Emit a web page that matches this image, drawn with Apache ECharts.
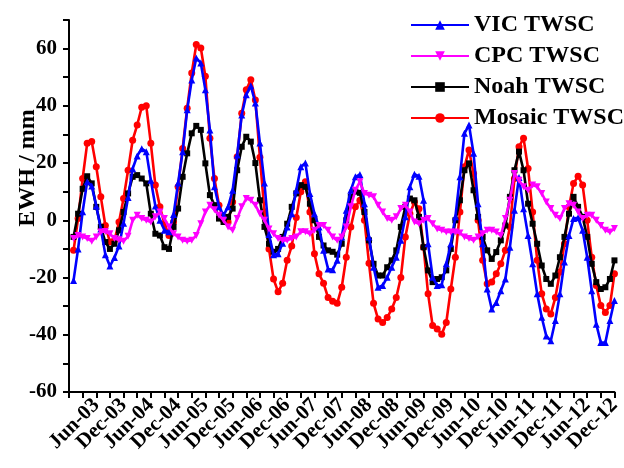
<!DOCTYPE html>
<html>
<head>
<meta charset="utf-8">
<script src="https://cdn.jsdelivr.net/npm/echarts@6/dist/echarts.min.js"></script>
<style>
  html, body { margin: 0; padding: 0; background: #fff; }
  #chart { width: 624px; height: 468px; }
</style>
</head>
<body>
<div id="chart"></div>
<script>
// Monthly terrestrial water storage change (mm EWH), Jan 2003 - Dec 2012
const startYear = 2003;
const monthNames = ['Jan','Feb','Mar','Apr','May','Jun','Jul','Aug','Sep','Oct','Nov','Dec'];

const vicTWSC = [
  -21, -10, 3, 13.5, 12, 5, -3, -12, -16, -13, -9, -1,
  8, 18, 22.5, 25, 24, 14, 5, 0, -3.5, -4, 2, 13,
  24, 38.6, 49, 56.7, 55, 45.6, 31.6, 11.7, 4.7, 1.8, 4.7, 10.5,
  22.8, 36.8, 43.9, 47, 41, 27, 13, -5, -12, -11.7, -8, -2.3,
  2.3, 10.5, 18.7, 20, 9.4, 2.3, -2.3, -10.5, -17, -17.3, -14, -5.8,
  3.5, 10.5, 15.2, 16, 5.8, -5.8, -16.4, -23.4, -22.8, -19.9, -16.4, -12.9,
  -7, 1.2, 11.7, 16.1, 15.4, 7, -8.2, -19.9, -22.8, -22.5, -15.2, -8.2,
  1.2, 15.2, 30.4, 33.3, 23.4, 5.8, -8.2, -24, -31, -28.7, -24.6, -20.5,
  -9.4, 3.5, 15, 4, -5.3, -15.2, -25.7, -33.9, -40.4, -42.1, -35, -25.7,
  -14.6, -5.3, 0.6, 0.9, -3.5, -12.9, -24.6, -36.3, -42.7, -42.7, -35, -28
];

const cpcTWSC = [
  -6.4, -5.3, -5.8, -6.4, -7.3, -5.8, -4.1, -3.9, -4.7, -6.4, -6.8, -7.3,
  -5.6, 0, 1.8, 0.6, 0, -0.6, 1.2, 2.9, 0.6, -2.3, -4.7, -5.8,
  -7, -7.3, -7, -5.3, -1.2, 2.9, 5.3, 3.7, 1.8, 0, -2.3, -3.5,
  0.6, 4.7, 7.6, 7, 5.3, 2.3, 0, -3, -4.7, -6.4, -7, -7,
  -6.4, -5.8, -4, -4, -4.7, -3.5, -1.8, -1.8, -3.5, -5.8, -7, -5.8,
  -2.3, 4.7, 10.5, 13.5, 9.4, 8.8, 8.2, 5.3, 2.9, 0.6, 0, 1.2,
  4.1, 5.3, 2.9, -0.6, -1.2, 0, 0.6, -1.2, -3, -3.5, -4.1, -4.1,
  -4.1, -4.4, -5.8, -6.4, -7, -5.8, -4.7, -3.5, -3.5, -4.1, -5.3, 0.6,
  7, 16.4, 14, 11.7, 10.5, 12.3, 11.7, 9.4, 6.4, 4.1, 1.8, 0.6,
  4.1, 5.8, 5.3, 2.9, 0.6, 1.8, 1.8, 0, -1.8, -3.5, -4.1, -2.9
];

const noahTWSC = [
  -5.8, 2.3, 11, 15.4, 12.9, 4.7, -2.3, -7.6, -10, -8.2, -3.5, 2.9,
  9.4, 15.2, 15.8, 14.6, 12.9, 2.3, -4.7, -5.3, -9.4, -10, -2.3, 4.1,
  15.2, 23.4, 30.4, 33, 31.6, 19.9, 8.8, 5.3, 0.6, -0.6, 1.2, 4.1,
  17.5, 25.7, 29.2, 27.5, 20, 7, -2.3, -8.2, -11, -10, -5.8, -1.2,
  4.7, 9.4, 12.3, 11.7, 5.8, 0, -5.8, -8.8, -10.5, -11, -12, -8.2,
  0, 8.2, 10, 9.6, 2.9, -7, -15.2, -19.3, -19.3, -16.4, -14, -10.5,
  -2.3, 4.7, 7.6, 7, 1.2, -9.4, -17.5, -21.6, -20.5, -19.9, -17.5, -10,
  0, 7, 17.5, 19.9, 10.5, 1.2, -5.8, -10.5, -13.5, -11.1, -7, -1.8,
  8.2, 17.5, 24, 17.5, 5.8, -1.2, -8.2, -15.8, -20.5, -22.2, -19.3, -12.9,
  -5.8, 2.3, 8.2, 4.7, 1.2, -5.8, -15.2, -21.6, -24, -23.4, -20.5, -14
];

const mosaicTWSC = [
  -10.5, 0.6, 14.6, 26.9, 27.5, 18.7, 8.2, -1.8, -7.6, -7, -0.6, 7.6,
  17.5, 28, 33.3, 39.5, 40, 26.9, 12.3, 4.7, -1.2, -5.3, -0.6, 11.7,
  25.1, 39.2, 51.5, 61.4, 60.2, 50.3, 28.7, 14.6, 5.3, 0, -0.6, 6.4,
  22.2, 37.4, 45.6, 49.1, 42, 22, 3, -10, -20.5, -25, -22, -14,
  -9, 1, 10, 13.5, 2.9, -11.7, -18.7, -22, -27, -28.3, -29, -23.4,
  -12.9, -2.3, 4.7, 7, 0, -15, -29, -34.5, -35.7, -34, -31, -27,
  -20, -5.8, 2.3, 6.4, 4, -9.4, -25.7, -36.8, -38, -39.8, -35.7, -24,
  -12.9, 2.9, 18.7, 24.6, 16.4, 0, -14, -22.2, -21.6, -18.7, -15.2, -10.5,
  -2.3, 14.6, 25.7, 28.7, 18.1, 2.9, -14, -25.7, -31, -32.7, -27, -18.1,
  -8.2, 4.7, 12.9, 15.4, 12.3, 0, -12.9, -22.8, -29.8, -32.2, -29.8, -18.7
];

const yTicks = [-60, -40, -20, 0, 20, 40, 60];

// Month categories: the axis starts one month before the first sample (Dec-02)
const months = ['Dec-02'];
for (let i = 0; i < vicTWSC.length; i++) {
  const y = startYear + Math.floor(i / 12);
  months.push(monthNames[i % 12] + '-' + String(y).slice(2));
}
const pair = arr => arr.map((v, i) => [months[i + 1], v]);

const FONT = '"Liberation Serif", "Times New Roman", serif';

const chart = echarts.init(document.getElementById('chart'), null, { renderer: 'canvas' });

function lineSeries(name, data, color, symbol, size, rotate, z) {
  return {
    name, type: 'line', data: pair(data), z,
    symbol, symbolSize: size, symbolRotate: rotate,
    showSymbol: true, showAllSymbol: true,
    lineStyle: { color, width: 2.6 },
    itemStyle: { color, borderWidth: 0 },
    emphasis: { disabled: true },
    animation: false
  };
}

chart.setOption({
  backgroundColor: '#fff',
  animation: false,
  grid: { left: 69, right: 9, top: 20, bottom: 76 },
  legend: {
    orient: 'vertical',
    left: 405, top: 7,
    itemWidth: 58, itemHeight: 12, itemGap: 5,
    textStyle: { fontFamily: FONT, fontWeight: 'bold', fontSize: 24, color: '#000', lineHeight: 26 },
    data: ['VIC TWSC', 'CPC TWSC', 'Noah TWSC', 'Mosaic TWSC']
  },
  xAxis: {
    type: 'category',
    data: months,
    boundaryGap: false,
    axisLine: { onZero: false, lineStyle: { color: '#000', width: 2 } },
    axisTick: { interval: idx => idx % 3 === 0, length: 6, lineStyle: { color: '#000', width: 2 } },
    axisLabel: {
      // every month gets a label slot; only June and December are written
      interval: 0,
      formatter: (v, idx) => (idx > 0 && idx % 6 === 0 ? v : ''),
      hideOverlap: false,
      rotate: 45, margin: 10,
      fontFamily: FONT, fontWeight: 'bold', fontSize: 21, color: '#000'
    },
    splitLine: { show: false }
  },
  yAxis: {
    type: 'value',
    min: -60, max: 70, interval: 10,
    axisLine: { show: true, lineStyle: { color: '#000', width: 2 } },
    axisTick: { show: true, length: 6, lineStyle: { color: '#000', width: 2 } },
    axisLabel: {
      margin: 12, showMinLabel: true, hideOverlap: false,
      fontFamily: FONT, fontWeight: 'bold', fontSize: 21, color: '#000',
      formatter: v => (yTicks.indexOf(v) >= 0 ? String(v) : '')
    },
    splitLine: { show: false }
  },
  graphic: [{
    type: 'text',
    x: 28, y: 168,
    rotation: Math.PI / 2,
    style: {
      text: 'EWH / mm',
      font: 'bold 24px ' + FONT,
      fill: '#000',
      align: 'center', verticalAlign: 'middle',
      textAlign: 'center', textVerticalAlign: 'middle'
    }
  }],
  series: [
    lineSeries('VIC TWSC', vicTWSC, '#0000ff', 'triangle', 7, 0, 3),
    lineSeries('CPC TWSC', cpcTWSC, '#ff00ff', 'triangle', 7, 180, 4),
    lineSeries('Noah TWSC', noahTWSC, '#000000', 'rect', 6, 0, 2),
    lineSeries('Mosaic TWSC', mosaicTWSC, '#ff0000', 'circle', 7, 0, 1)
  ]
});
</script>
</body>
</html>
